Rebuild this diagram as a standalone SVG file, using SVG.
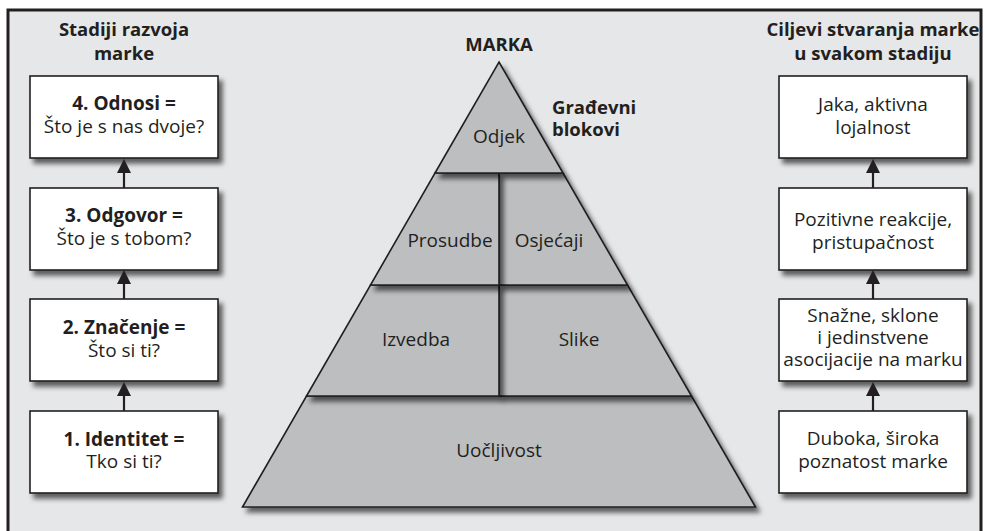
<svg xmlns="http://www.w3.org/2000/svg" width="984" height="531" viewBox="0 0 984 531">
  <defs>
    <filter id="shadow" x="-20%" y="-20%" width="150%" height="150%">
      <feDropShadow dx="4" dy="5" stdDeviation="2.5" flood-color="#000" flood-opacity="0.6"/>
    </filter>
    <!-- upward arrow: shaft from y=0 down to y=29, head tip at y=0 -->
    <g id="up-arrow">
      <line x1="0" y1="12" x2="0" y2="29" stroke="#231f20" stroke-width="2.2"/>
      <path d="M0,0 L-7,14 L7,14 Z" fill="#231f20"/>
    </g>
  </defs>
  <style>
    text { font-family: "Open Sans", "Noto Sans", sans-serif; fill: #231f20; text-anchor: middle; }
    .head { font-weight: bold; font-size: 18.5px; }
    .lbl { font-size: 19px; }
    .lblb { font-size: 19px; font-weight: bold; }
    .pyr { font-size: 19px; }
    .box { fill: #ffffff; stroke: #231f20; stroke-width: 1.6; filter: url(#shadow); }
    .tier { fill: #bcbec0; stroke: #231f20; stroke-width: 1.6; stroke-linejoin: miter; filter: url(#shadow); }
  </style>

  <!-- panel -->
  <rect x="8" y="10" width="973" height="540" fill="#e6e7e8" stroke="#231f20" stroke-width="3"/>

  <!-- column headings -->
  <g id="heading-stages">
    <text class="head" x="124" y="36">Stadiji razvoja</text>
    <text class="head" x="124" y="60">marke</text>
  </g>
  <g id="heading-brand">
    <text class="head" x="499" y="51">MARKA</text>
  </g>
  <g id="heading-goals">
    <text class="head" x="873" y="36">Ciljevi stvaranja marke</text>
    <text class="head" x="873" y="60">u svakom stadiju</text>
  </g>
  <g id="heading-blocks">
    <text class="head" x="552" y="114" style="text-anchor:start">Građevni</text>
    <text class="head" x="552" y="136" style="text-anchor:start">blokovi</text>
  </g>

  <!-- pyramid: drawn bottom to top so upper shadows fall on lower tiers -->
  <g id="tier-uocljivost">
    <polygon class="tier" points="306.5,396 691.5,396 755.5,507 242.5,507"/>
    <text class="pyr" x="499" y="457">Uočljivost</text>
  </g>
  <g id="tier-slike">
    <polygon class="tier" points="499,285 627.5,285 691.5,396 499,396"/>
    <text class="pyr" x="579" y="346">Slike</text>
  </g>
  <g id="tier-izvedba">
    <polygon class="tier" points="370.5,285 499,285 499,396 306.5,396"/>
    <text class="pyr" x="416" y="346">Izvedba</text>
  </g>
  <g id="tier-osjecaji">
    <polygon class="tier" points="499,173 563,173 627.5,285 499,285"/>
    <text class="pyr" x="549" y="247">Osjećaji</text>
  </g>
  <g id="tier-prosudbe">
    <polygon class="tier" points="435,173 499,173 499,285 370.5,285"/>
    <text class="pyr" x="450" y="247">Prosudbe</text>
  </g>
  <g id="tier-odjek">
    <polygon class="tier" points="499,62 563,173 435,173"/>
    <text class="pyr" x="499" y="143">Odjek</text>
  </g>

  <!-- stages of brand development -->
  <g id="stage-4">
    <rect class="box" x="30" y="76" width="188" height="82"/>
    <text class="lblb" x="124" y="110">4. Odnosi =</text>
    <text class="lbl" x="124" y="133">Što je s nas dvoje?</text>
  </g>
  <g id="stage-3">
    <rect class="box" x="30" y="188" width="188" height="82"/>
    <text class="lblb" x="124" y="222">3. Odgovor =</text>
    <text class="lbl" x="124" y="245">Što je s tobom?</text>
  </g>
  <g id="stage-2">
    <rect class="box" x="30" y="299" width="188" height="82"/>
    <text class="lblb" x="124" y="334">2. Značenje =</text>
    <text class="lbl" x="124" y="357">Što si ti?</text>
  </g>
  <g id="stage-1">
    <rect class="box" x="30" y="411" width="188" height="82"/>
    <text class="lblb" x="124" y="446">1. Identitet =</text>
    <text class="lbl" x="124" y="468">Tko si ti?</text>
  </g>

  <!-- branding objectives at each stage -->
  <g id="goal-4">
    <rect class="box" x="779" y="76" width="188" height="82"/>
    <text class="lbl" x="873" y="111">Jaka, aktivna</text>
    <text class="lbl" x="873" y="134">lojalnost</text>
  </g>
  <g id="goal-3">
    <rect class="box" x="779" y="188" width="188" height="82"/>
    <text class="lbl" x="873" y="226">Pozitivne reakcije,</text>
    <text class="lbl" x="873" y="249">pristupačnost</text>
  </g>
  <g id="goal-2">
    <rect class="box" x="779" y="299" width="188" height="82"/>
    <text class="lbl" x="873" y="322">Snažne, sklone</text>
    <text class="lbl" x="873" y="344">i jedinstvene</text>
    <text class="lbl" x="873" y="366">asocijacije na marku</text>
  </g>
  <g id="goal-1">
    <rect class="box" x="779" y="411" width="188" height="82"/>
    <text class="lbl" x="873" y="445">Duboka, široka</text>
    <text class="lbl" x="873" y="468">poznatost marke</text>
  </g>

  <!-- connectors: each arrow rises from a box's top to the box above -->
  <g id="connectors">
    <use href="#up-arrow" x="124" y="159"/>
    <use href="#up-arrow" x="124" y="270"/>
    <use href="#up-arrow" x="124" y="382"/>
    <use href="#up-arrow" x="873" y="159"/>
    <use href="#up-arrow" x="873" y="270"/>
    <use href="#up-arrow" x="873" y="382"/>
  </g>
</svg>
